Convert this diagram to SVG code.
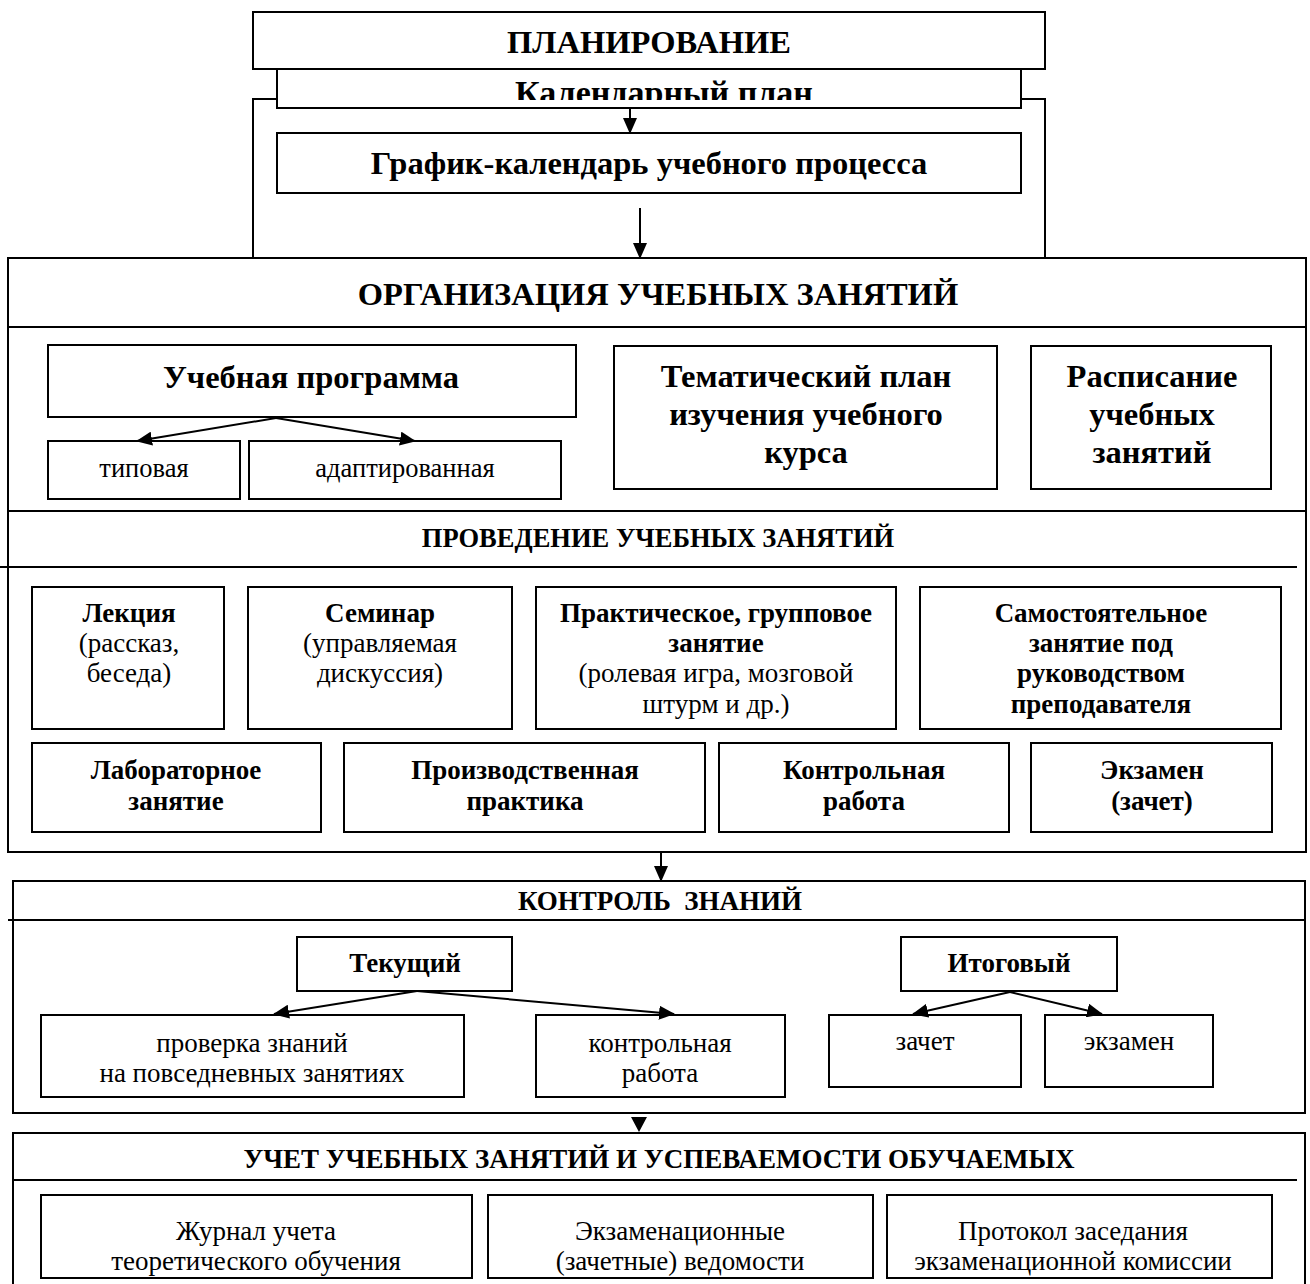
<svg xmlns="http://www.w3.org/2000/svg" width="1310" height="1284" viewBox="0 0 1310 1284">
<style>
.box{fill:#fff;stroke:#000;stroke-width:2}
.frame{fill:none;stroke:#000;stroke-width:2}
.ln{stroke:#000;stroke-width:2;fill:none}
.t{font-family:"Liberation Serif","Times New Roman",serif;text-anchor:middle;fill:#000}
.b{font-weight:bold}
.big{font-size:32.5px}
.kal{font-size:34px}
.mid{font-size:26.5px}
.sm{font-size:27px}
</style>
<defs>
<marker id="ah" markerUnits="userSpaceOnUse" markerWidth="16" markerHeight="14" refX="15" refY="7" orient="auto">
<path d="M0,0 L16,7 L0,14 Z" fill="#000"/>
</marker>
<clipPath id="clipKal"><rect x="277" y="69" width="744" height="31"/></clipPath>
</defs>
<rect width="1310" height="1284" fill="#fff"/>

<g id="plan-frame"><rect class="box" x="253" y="99" width="792" height="159"/></g>
<g id="planirovanie"><rect class="box" x="253" y="12" width="792" height="57"/><text class="t b big" x="649" y="53">ПЛАНИРОВАНИЕ</text></g>
<g id="kalendarny-plan"><rect class="box" x="277" y="69" width="744" height="39"/><text class="t b kal" x="664" y="104" clip-path="url(#clipKal)">Календарный план</text></g>
<g id="grafik"><rect class="box" x="277" y="133" width="744" height="60"/><text class="t b big" x="649" y="174">График-календарь учебного процесса</text></g>

<g id="organizatsiya"><rect class="box" x="8" y="258" width="1298" height="253"/><line class="ln" x1="8" y1="327" x2="1306" y2="327"/><text class="t b big" x="658" y="305">ОРГАНИЗАЦИЯ УЧЕБНЫХ ЗАНЯТИЙ</text></g>
<g id="uchebnaya-programma"><rect class="box" x="48" y="345" width="528" height="72"/><text class="t b big" x="311" y="388">Учебная программа</text></g>
<g id="tipovaya"><rect class="box" x="48" y="441" width="192" height="58"/><text class="t mid" x="144" y="477">типовая</text></g>
<g id="adaptirovannaya"><rect class="box" x="249" y="441" width="312" height="58"/><text class="t mid" x="405" y="477">адаптированная</text></g>
<g id="tematicheskiy-plan"><rect class="box" x="614" y="346" width="383" height="143"/><text class="t b big" x="806" y="387">Тематический план</text><text class="t b big" x="806" y="425">изучения учебного</text><text class="t b big" x="806" y="463">курса</text></g>
<g id="raspisanie"><rect class="box" x="1031" y="346" width="240" height="143"/><text class="t b big" x="1152" y="387">Расписание</text><text class="t b big" x="1152" y="425">учебных</text><text class="t b big" x="1152" y="463">занятий</text></g>

<g id="provedenie"><rect class="box" x="8" y="511" width="1298" height="341"/><line class="ln" x1="0" y1="567" x2="1297" y2="567"/><text class="t b mid" x="658" y="547">ПРОВЕДЕНИЕ УЧЕБНЫХ ЗАНЯТИЙ</text></g>
<g id="lektsiya"><rect class="box" x="32" y="587" width="192" height="142"/><text class="t b sm" x="129" y="622">Лекция</text><text class="t sm" x="129" y="652">(рассказ,</text><text class="t sm" x="129" y="682">беседа)</text></g>
<g id="seminar"><rect class="box" x="248" y="587" width="264" height="142"/><text class="t b sm" x="380" y="622">Семинар</text><text class="t sm" x="380" y="652">(управляемая</text><text class="t sm" x="380" y="682">дискуссия)</text></g>
<g id="prakticheskoe"><rect class="box" x="536" y="587" width="360" height="142"/><text class="t b sm" x="716" y="622">Практическое, групповое</text><text class="t b sm" x="716" y="652">занятие</text><text class="t sm" x="716" y="682">(ролевая игра, мозговой</text><text class="t sm" x="716" y="713">штурм и др.)</text></g>
<g id="samostoyatelnoe"><rect class="box" x="920" y="587" width="361" height="142"/><text class="t b sm" x="1101" y="622">Самостоятельное</text><text class="t b sm" x="1101" y="652">занятие под</text><text class="t b sm" x="1101" y="682">руководством</text><text class="t b sm" x="1101" y="713">преподавателя</text></g>
<g id="laboratornoe"><rect class="box" x="32" y="743" width="289" height="89"/><text class="t b sm" x="176" y="779">Лабораторное</text><text class="t b sm" x="176" y="810">занятие</text></g>
<g id="proizvodstvennaya"><rect class="box" x="344" y="743" width="361" height="89"/><text class="t b sm" x="525" y="779">Производственная</text><text class="t b sm" x="525" y="810">практика</text></g>
<g id="kontrolnaya"><rect class="box" x="719" y="743" width="290" height="89"/><text class="t b sm" x="864" y="779">Контрольная</text><text class="t b sm" x="864" y="810">работа</text></g>
<g id="ekzamen-zachet"><rect class="box" x="1031" y="743" width="241" height="89"/><text class="t b sm" x="1152" y="779">Экзамен</text><text class="t b sm" x="1152" y="810">(зачет)</text></g>

<g id="kontrol"><rect class="box" x="13" y="881" width="1292" height="232"/><line class="ln" x1="8" y1="920" x2="1305" y2="920"/><text class="t b sm" x="660" y="910" xml:space="preserve">КОНТРОЛЬ  ЗНАНИЙ</text></g>
<g id="tekushchiy"><rect class="box" x="297" y="937" width="215" height="54"/><text class="t b sm" x="405" y="972">Текущий</text></g>
<g id="itogovy"><rect class="box" x="901" y="937" width="216" height="54"/><text class="t b sm" x="1009" y="972">Итоговый</text></g>
<g id="proverka"><rect class="box" x="41" y="1015" width="423" height="82"/><text class="t sm" x="252" y="1052">проверка знаний</text><text class="t sm" x="252" y="1082">на повседневных занятиях</text></g>
<g id="kontrolnaya-rabota"><rect class="box" x="536" y="1015" width="249" height="82"/><text class="t sm" x="660" y="1052">контрольная</text><text class="t sm" x="660" y="1082">работа</text></g>
<g id="zachet"><rect class="box" x="829" y="1015" width="192" height="72"/><text class="t sm" x="925" y="1050">зачет</text></g>
<g id="ekzamen"><rect class="box" x="1045" y="1015" width="168" height="72"/><text class="t sm" x="1129" y="1050">экзамен</text></g>

<g id="uchet"><path class="frame" d="M13,1290 V1133 H1305 V1290"/><line class="ln" x1="13" y1="1180" x2="1297" y2="1180"/><text class="t b sm" x="659" y="1168">УЧЕТ УЧЕБНЫХ ЗАНЯТИЙ И УСПЕВАЕМОСТИ ОБУЧАЕМЫХ</text></g>
<g id="zhurnal"><rect class="box" x="41" y="1195" width="431" height="83"/><text class="t sm" x="256" y="1240">Журнал учета</text><text class="t sm" x="256" y="1270">теоретического обучения</text></g>
<g id="vedomosti"><rect class="box" x="488" y="1195" width="385" height="83"/><text class="t sm" x="680" y="1240">Экзаменационные</text><text class="t sm" x="680" y="1270">(зачетные) ведомости</text></g>
<g id="protokol"><rect class="box" x="887" y="1195" width="385" height="83"/><text class="t sm" x="1073" y="1240">Протокол заседания</text><text class="t sm" x="1073" y="1270">экзаменационной комиссии</text></g>

<g id="connectors">
<line class="ln" x1="630" y1="108" x2="630" y2="133" marker-end="url(#ah)"/>
<line class="ln" x1="640" y1="208" x2="640" y2="258" marker-end="url(#ah)"/>
<line class="ln" x1="276" y1="418" x2="137" y2="441" marker-end="url(#ah)"/>
<line class="ln" x1="276" y1="418" x2="415" y2="441" marker-end="url(#ah)"/>
<line class="ln" x1="661" y1="852" x2="661" y2="881" marker-end="url(#ah)"/>
<line class="ln" x1="417" y1="991" x2="274" y2="1014" marker-end="url(#ah)"/>
<line class="ln" x1="417" y1="991" x2="674" y2="1014" marker-end="url(#ah)"/>
<line class="ln" x1="1010" y1="992" x2="913" y2="1014" marker-end="url(#ah)"/>
<line class="ln" x1="1010" y1="992" x2="1102" y2="1014" marker-end="url(#ah)"/>
<path d="M631,1117 L647,1117 L639,1132 Z" fill="#000"/>
</g>
</svg>
